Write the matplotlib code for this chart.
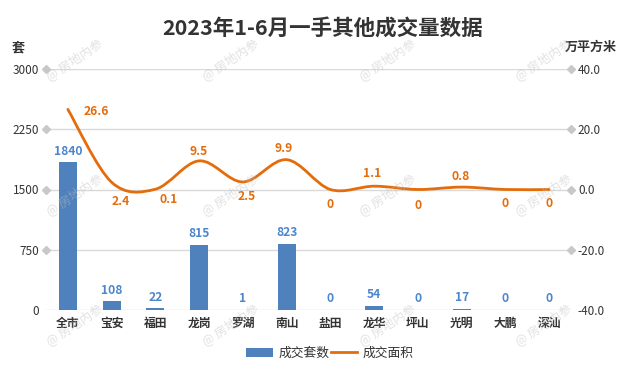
import numpy as np
import matplotlib
matplotlib.use("Agg")
import matplotlib.pyplot as plt
from matplotlib.path import Path
from matplotlib.patches import PathPatch, Patch
from matplotlib.lines import Line2D

plt.rcParams["font.family"] = ["Noto Sans CJK SC", "DejaVu Sans"]

# data
districts = ["全市", "宝安", "福田", "龙岗", "罗湖", "南山", "盐田", "龙华", "坪山", "光明", "大鹏", "深汕"]
units = [1840, 108, 22, 815, 1, 823, 0, 54, 0, 17, 0, 0]          # 成交套数
area = [26.6, 2.4, 0.1, 9.5, 2.5, 9.9, 0, 1.1, 0, 0.8, 0, 0]       # 成交面积 (万平方米)
area_text = ["26.6", "2.4", "0.1", "9.5", "2.5", "9.9", "0", "1.1", "0", "0.8", "0", "0"]
left_ticks = [0, 750, 1500, 2250, 3000]
right_ticks = [-40, -20, 0, 20, 40]

# label nudges in pixels (dx right, dy down) for the area labels
area_nudge = [(28, 2), (9, 19), (13, 10), (-1, -9), (4, 15), (-3, -11),
              (0, 15), (-2, -13), (0, 16), (-1, -11), (0, 14), (0, 14)]

BLUE = "#4F81BD"
BLUE_TXT = "#4E86CC"
ORANGE = "#E46C0A"
GRID = "#D9D9D9"
TXT = "#333333"
W, H = 626, 379

fig = plt.figure(figsize=(W / 100, H / 100), dpi=100)
ax = fig.add_axes([46 / W, 1 - 310 / H, (571 - 46) / W, 241 / H])
ax2 = ax.twinx()

x = np.arange(len(districts))
ax.bar(x, units, width=0.41, color=BLUE, zorder=2)
ax.set_xlim(-0.5, len(districts) - 0.5)
ax.set_ylim(0, 3000)
ax.set_yticks(left_ticks)
ax.set_xticks(x, districts)
ax.yaxis.grid(True, color=GRID, lw=1)
ax.set_axisbelow(True)
ax.tick_params(axis="y", length=0, pad=5, labelsize=8.5, labelcolor=TXT)
ax.tick_params(axis="x", length=0, pad=5, labelsize=8.5, labelcolor=TXT)
for lab in ax.get_xticklabels():
    lab.set_fontweight("bold")

ax2.set_ylim(-40, 40)
ax2.set_yticks(right_ticks, [f"{v:.1f}" for v in right_ticks])
ax2.tick_params(axis="y", length=0, pad=5, labelsize=8.5, labelcolor=TXT)
for a in (ax, ax2):
    for s in a.spines.values():
        s.set_visible(False)

# diamond end markers on the grid lines
for xe in (0, 1):
    ax.plot([xe] * 4, left_ticks[1:], "D", ms=4, color="#C8C8C8",
            transform=ax.get_yaxis_transform(), clip_on=False, zorder=3)

# bar value labels
for xi, v in zip(x, units):
    ax.annotate(str(v), (xi, v), xytext=(0, 11 * 0.72), textcoords="offset points",
                ha="center", va="center", fontsize=8.7, fontweight="bold", color=BLUE_TXT)

# smoothed area line (Catmull-Rom as cubic Bezier)
P = np.column_stack([x, area]).astype(float)
n = len(P)
verts = [tuple(P[0])]
for i in range(n - 1):
    p0 = P[i - 1] if i > 0 else P[i]
    p3 = P[i + 2] if i + 2 < n else P[i + 1]
    c1 = P[i] + (P[i + 1] - p0) / 6
    c2 = P[i + 1] - (p3 - P[i]) / 6
    verts += [tuple(c1), tuple(c2), tuple(P[i + 1])]
codes = [Path.MOVETO] + [Path.CURVE4] * (3 * (n - 1))
ax2.add_patch(PathPatch(Path(verts, codes), fill=False, edgecolor=ORANGE, lw=2.0,
                        capstyle="round", zorder=3))

for xi, v, t, (dx, dy) in zip(x, area, area_text, area_nudge):
    ax2.annotate(t, (xi, v), xytext=(dx * 0.72, -dy * 0.72), textcoords="offset points",
                 ha="center", va="center", fontsize=8.7, fontweight="bold", color=ORANGE)

fig.text(323 / W, 1 - 29 / H, "2023年1-6月一手其他成交量数据", ha="center", va="center",
         fontsize=15.5, fontweight="bold", color=TXT)
fig.text(18 / W, 1 - 47 / H, "套", ha="center", va="center", fontsize=9.4,
         fontweight="bold", color=TXT)
fig.text(591 / W, 1 - 47 / H, "万平方米", ha="center", va="center", fontsize=9.4,
         fontweight="bold", color=TXT)

handles = [Patch(facecolor=BLUE), Line2D([], [], color=ORANGE, lw=2)]
fig.legend(handles, ["成交套数", "成交面积"], loc="center", bbox_to_anchor=(330 / W, 1 - 353 / H),
           ncol=2, frameon=False, fontsize=9.2, handlelength=2.1, handletextpad=0.4,
           columnspacing=0.1, labelcolor=TXT)

# faint watermark
for wy in (60, 195, 325):
    for wx in (74, 230, 387, 543):
        fig.text(wx / W, 1 - wy / H, "@ 房地内参", ha="center", va="center", rotation=33,
                 fontsize=9, color="#BFBFBF", alpha=0.45, zorder=10)

fig.savefig("out.png", dpi=100)
